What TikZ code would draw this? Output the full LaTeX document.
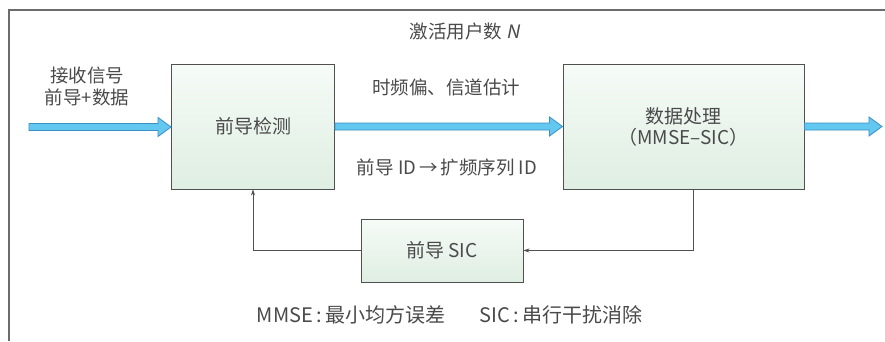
\documentclass[tikz,border=0pt]{standalone}
\usepackage{fontspec}
\setmainfont{Noto Sans CJK SC}
\newfontfamily\slfont{Noto Sans CJK SC}[FakeSlant=0.2]
\usetikzlibrary{calc,arrows.meta}
\definecolor{txt}{HTML}{4A4A4A}
\definecolor{boxline}{HTML}{505050}
\definecolor{gtop}{HTML}{F6FBF7}
\definecolor{gbot}{HTML}{DFEEE2}
\definecolor{afill}{HTML}{62C8F0}
\definecolor{aline}{HTML}{3C8FC4}
\tikzset{
  blk/.style={draw=boxline, line width=0.9pt, top color=gtop, bottom color=gbot,
    minimum width=#1, inner sep=0pt, text=txt, font=\fontsize{19}{21}\selectfont, align=center},
  lbl/.style={text=txt, font=\fontsize{18.5}{22}\selectfont, align=center, inner sep=0pt},
  fb/.style={draw=boxline, line width=0.8pt, -{Stealth[length=6pt,width=4pt]}},
  fat/.style={fill=afill, draw=aline, line width=0.8pt, line join=miter},
  frame/.style={draw=gray!85!black, line width=1.2pt}
}
\newcommand\fatarrow[2]{%
  \path[fat] let \p1=(#1), \p2=(#2) in
    (\x1,\y1+3.5pt) -- (\x2-13pt,\y1+3.5pt) -- (\x2-13pt,\y1+9.5pt) -- (\x2,\y1) --
    (\x2-13pt,\y1-9.5pt) -- (\x2-13pt,\y1-3.5pt) -- (\x1,\y1-3.5pt) -- cycle;}
\begin{document}
\begin{tikzpicture}[x=1pt,y=-1pt]
\useasboundingbox (0,0) rectangle (885,341);
\fill[white] (0,0) rectangle (885,341);
% frame
\coordinate (fa) at (9,341);
\coordinate (fb) at (9,10);
\coordinate (fc) at (885,10);
\draw[frame] (fa) -- (fb) -- (fc);
% title
\node[lbl] (title) at (465,31) {激活用户数 {\slfont N}};
% boxes
\node[blk=163pt, minimum height=125pt] (b1) at (253,126.5) {前导检测};
\node[blk=241pt, minimum height=125pt] (b2) at (683.5,126.5) {数据处理\\（MMSE–SIC）};
\node[blk=162pt, minimum height=63pt] (b3) at (442,250.5) {前导 SIC};
% input
\coordinate (in) at (29,127);
\coordinate (out) at (882,127);
\node[lbl] (inlbl) at (87,86) {接收信号\\前导+数据};
\fatarrow{in}{b1.west}
\fatarrow{b1.east}{b2.west}
\fatarrow{b2.east}{out}
\node[lbl] (l1) at (446,87) {时频偏、信道估计};
\node[lbl] (l2) at (447,167) {前导 ID\,→\,扩频序列 ID};
% feedback
\draw[fb] ([xshift=9.5pt]b2.south) |- (b3.east);
\draw[fb] (b3.west) -| (b1.south);
% legend
\node[lbl, font=\fontsize{20}{24}\selectfont] (leg) at (449.5,315) {MMSE\,:\,最小均方误差\hspace{1.7em}SIC\,:\,串行干扰消除};
\end{tikzpicture}
\end{document}
